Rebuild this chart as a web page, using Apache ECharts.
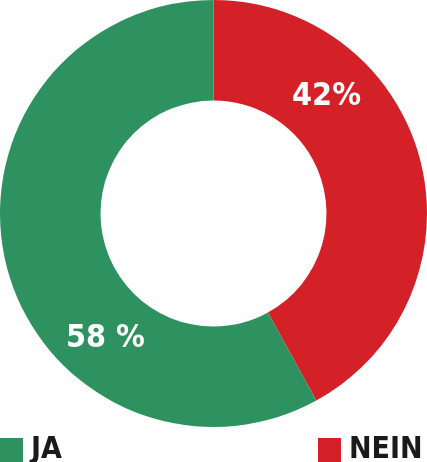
<!DOCTYPE html>
<html><head><meta charset="utf-8">
<script src="https://cdn.jsdelivr.net/npm/echarts@6/dist/echarts.min.js"></script>
<style>html,body{margin:0;padding:0;background:#fff}#c{width:427px;height:462px}</style>
</head><body><div id="c"></div>
<script>
const categories = ['NEIN', 'JA'];
const values = [42, 58];
const labelTexts = ['42%', '58 %'];
const colors = ['#d42027', '#2e9260'];
const labelOffsets = [[-48, -75], [53, 84]];
const FONT = '"DejaVu Sans Condensed", "DejaVu Sans", sans-serif';
const chart = echarts.init(document.getElementById('c'));
const legendText = {fontFamily: FONT, fontSize: 30, fontWeight: 'bold', color: '#1a1a1a', padding: [0,0,0,3]};
chart.setOption({
  animation: false,
  legend: [
    {data: ['JA'], left: 0, top: 435, padding: 0, itemWidth: 23, itemHeight: 24, itemGap: 10, icon: 'rect', textStyle: legendText},
    {data: ['NEIN'], left: 318, top: 435, padding: 0, itemWidth: 23, itemHeight: 24, icon: 'rect', textStyle: legendText}
  ],
  series: [{
    type: 'pie',
    center: [213.5, 213.5],
    radius: [113, 213.5],
    startAngle: 90,
    clockwise: true,
    silent: true,
    label: {show: true, position: 'inside', color: '#fff', fontFamily: FONT, fontSize: 32, fontWeight: 'bold'},
    labelLine: {show: false},
    itemStyle: {borderWidth: 0},
    data: categories.map((c, i) => ({
      name: c, value: values[i],
      itemStyle: {color: colors[i]},
      label: {formatter: labelTexts[i], offset: labelOffsets[i]}
    }))
  }]
});
</script></body></html>
